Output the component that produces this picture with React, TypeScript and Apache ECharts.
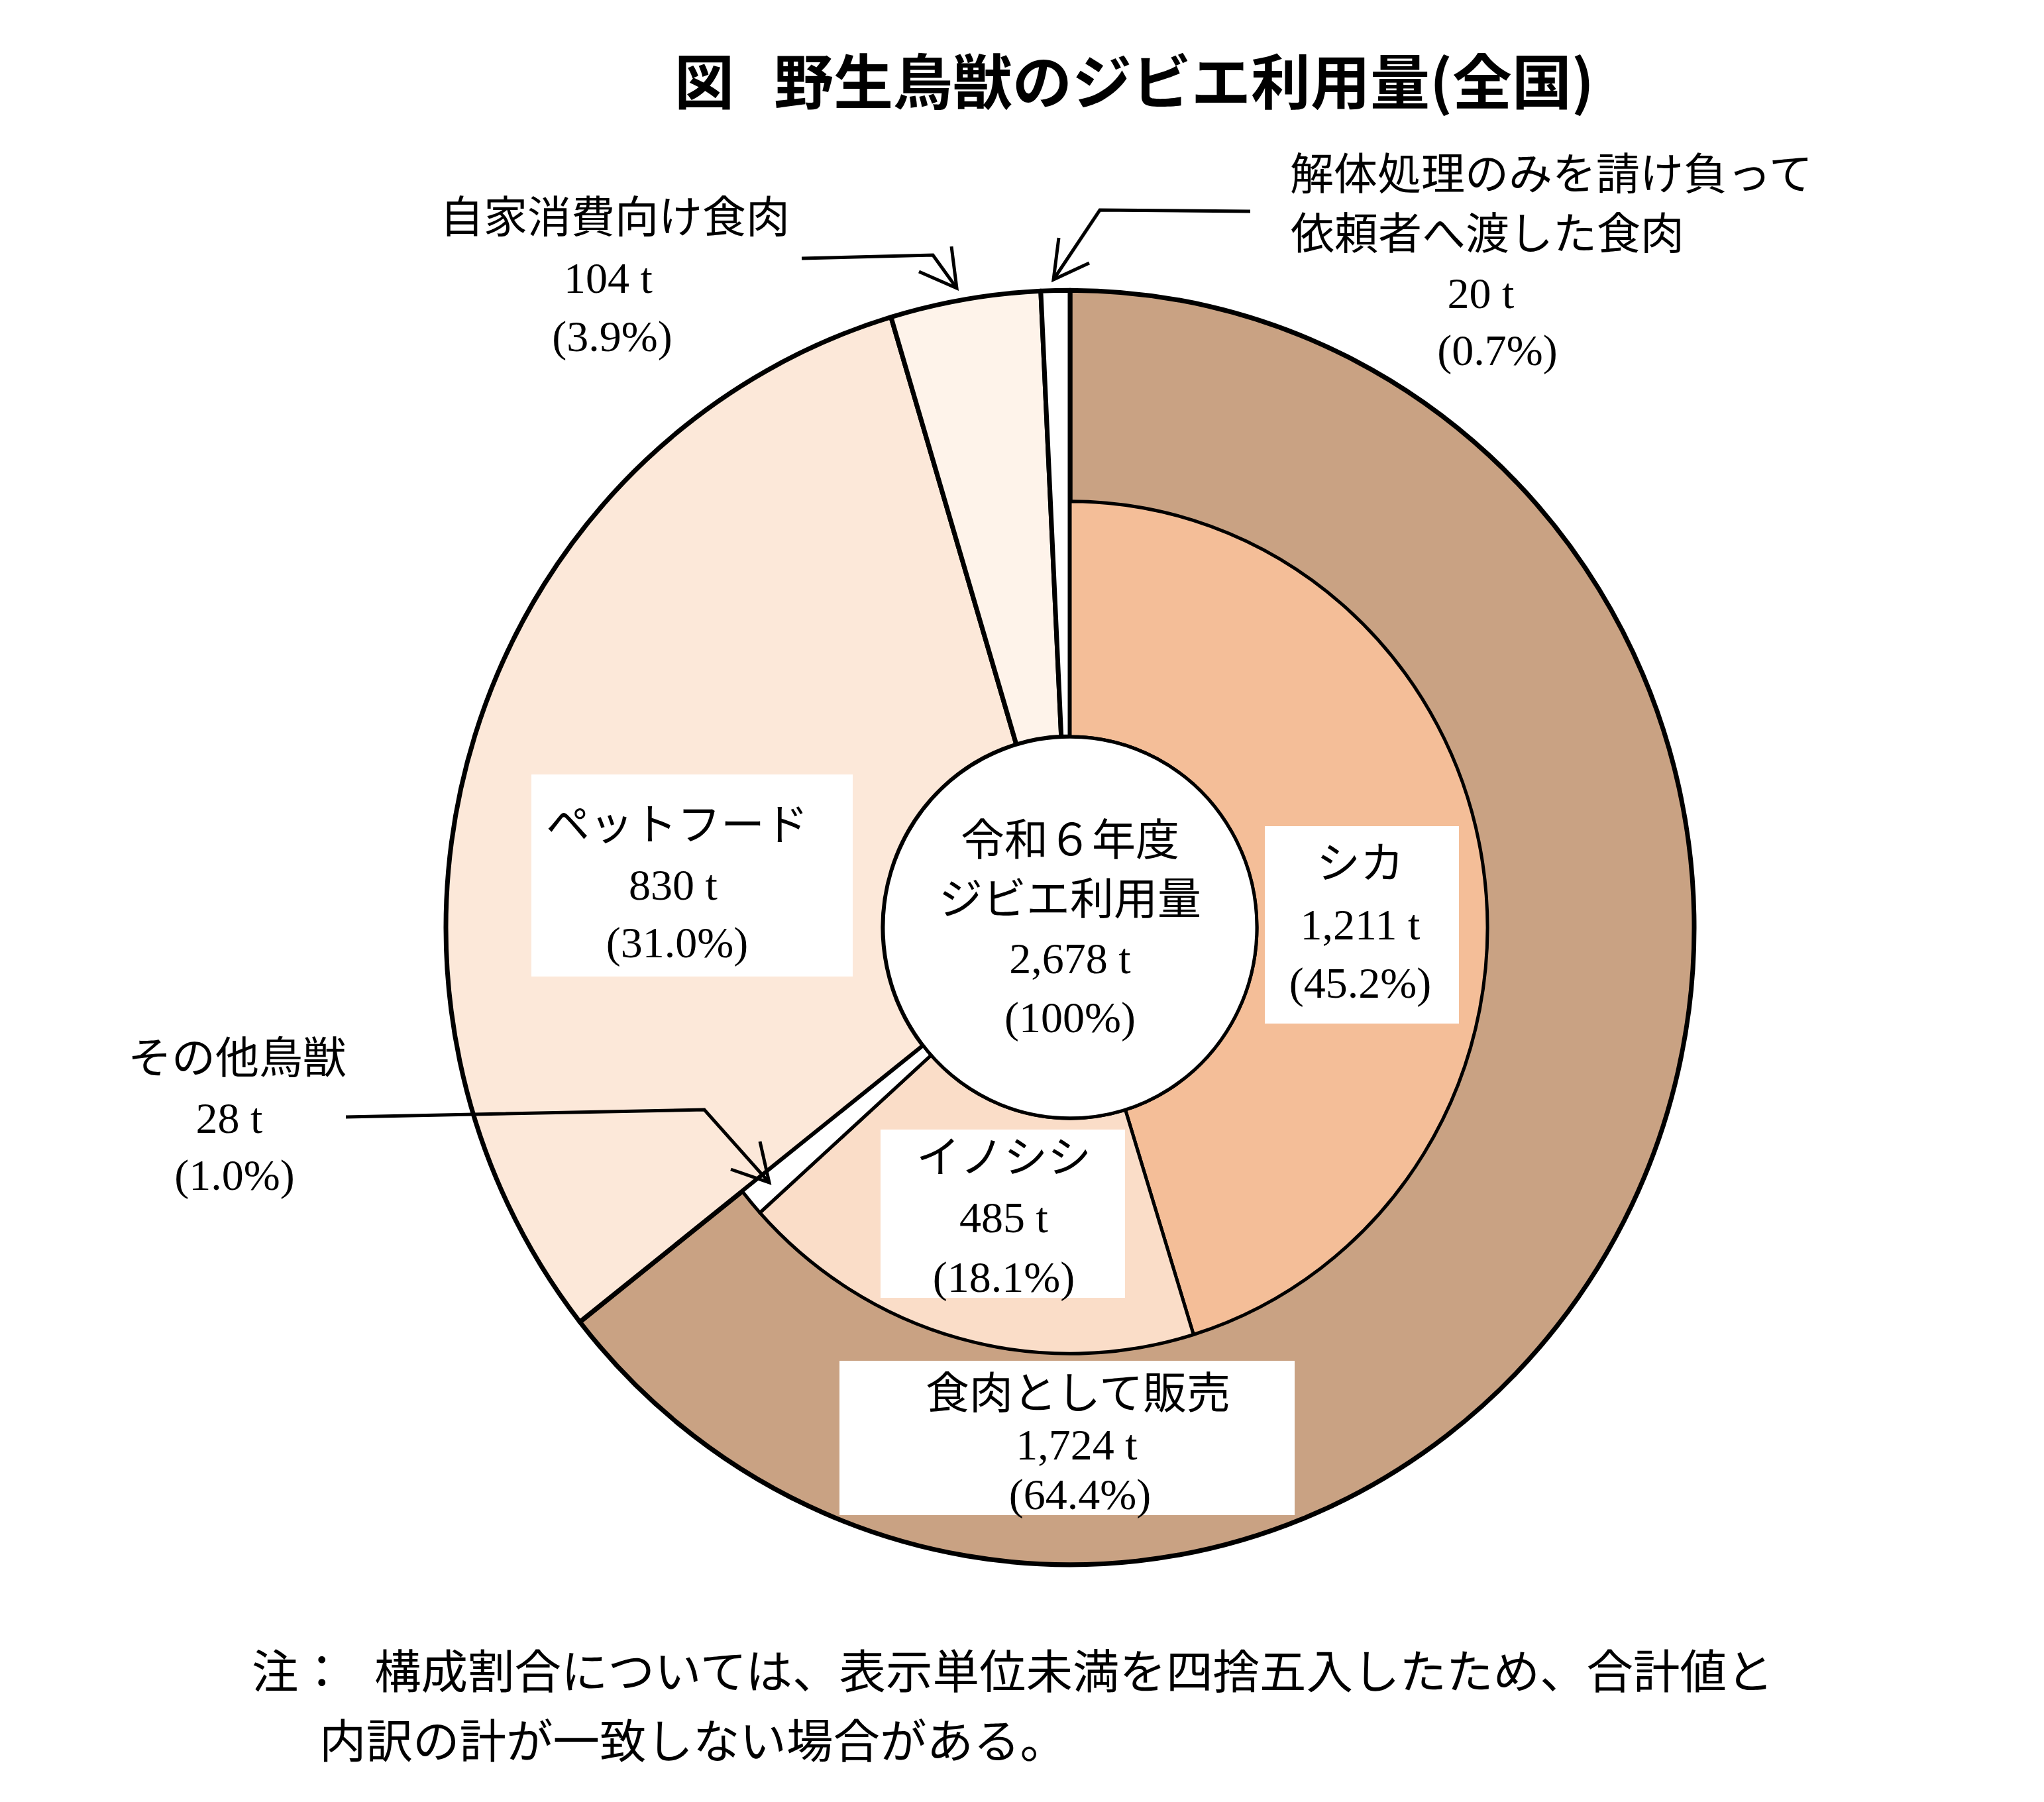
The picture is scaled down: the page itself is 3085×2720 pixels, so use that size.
import React, { useEffect, useRef } from 'react';
import * as echarts from 'echarts';

// ---- data ----
const titleMark = '図';
const titleText = '野生鳥獣のジビエ利用量(全国)';
const centerLines = ['令和６年度', 'ジビエ利用量'];
const totalValue = 2678;
const totalPct = '100';
const outerNames = ['食肉として販売', 'ペットフード', '自家消費向け食肉', '解体処理のみを請け負って\n依頼者へ渡した食肉'];
const outerValues = [1724, 830, 104, 20];
const outerPcts = ['64.4', '31.0', '3.9', '0.7'];
const innerNames = ['シカ', 'イノシシ', 'その他鳥獣'];
const innerValues = [1211, 485, 28];
const innerPcts = ['45.2', '18.1', '1.0'];
const noteHead = '注：';
const noteLines = ['構成割合については、表示単位未満を四捨五入したため、合計値と', '内訳の計が一致しない場合がある。'];

// ---- style ----
const outerColors = ['#C9A283', '#FCE8D9', '#FEF3EA', '#FFFFFF'];
const innerColors = ['#F4BE98', '#FADDC8', '#FFFFFF'];
const CX = 1615, CY = 1400, R_OUT = 942, R_MID = 630, R_HOLE = 282;
const SCALE_Y = 1.021; // the original doughnut is slightly taller than wide
const LABEL_FONT = '66px "Liberation Serif", "Noto Sans CJK JP", serif';
const NOTE_FONT = '70.5px "Noto Sans CJK JP", sans-serif';
const TITLE_FONT = 'bold 90px "Noto Sans CJK JP", sans-serif';

const fmt = (v: number) => v.toLocaleString('en-US');
const valText = (v: number) => `${fmt(v)} t`;
const pctText = (p: string) => `(${p}%)`;

function txt(text: string, x: number, y: number, align = 'center', font = LABEL_FONT) {
  return {
    type: 'text',
    z: 100,
    silent: true,
    style: { text, x, y, font, textAlign: align, textVerticalAlign: 'middle', fill: '#000' },
  };
}
function rect(x1: number, y1: number, x2: number, y2: number) {
  return { type: 'rect', z: 99, silent: true, shape: { x: x1, y: y1, width: x2 - x1, height: y2 - y1 }, style: { fill: '#fff' } };
}
function pl(points: number[][], w = 5) {
  return { type: 'polyline', z: 101, silent: true, shape: { points }, style: { stroke: '#000', lineWidth: w, fill: null, lineJoin: 'miter' } };
}

export default function App() {
  const pieRef = useRef<HTMLDivElement>(null);
  const textRef = useRef<HTMLDivElement>(null);
  useEffect(() => {
    if (!pieRef.current || !textRef.current) return;
    const pieChart = echarts.init(pieRef.current, null, { renderer: 'svg' });
    const textChart = echarts.init(textRef.current, null, { renderer: 'svg' });
    const innerSum = innerValues.reduce((a, b) => a + b, 0);
    const outerSum = outerValues.reduce((a, b) => a + b, 0);
    const filler = outerSum - innerSum;
    const [n0, n1, n2, n3] = outerNames;
    const n3lines = n3.split('\n');

    const common = {
      center: [CX, CY],
      startAngle: 90,
      clockwise: true,
      silent: true,
      label: { show: false },
      labelLine: { show: false },
      emphasis: { disabled: true },
    };

    pieChart.setOption({
      animation: false,
      backgroundColor: '#fff',
      series: [
        {
          type: 'pie',
          ...common,
          radius: [R_HOLE, R_OUT],
          itemStyle: { borderColor: '#000', borderWidth: 7 },
          data: outerValues.map((v, i) => ({ value: v, name: outerNames[i], itemStyle: { color: outerColors[i] } })),
        },
        {
          type: 'pie',
          ...common,
          radius: [R_HOLE, R_MID],
          itemStyle: { borderColor: '#000', borderWidth: 5 },
          data: [
            ...innerValues.map((v, i) => ({ value: v, name: innerNames[i], itemStyle: { color: innerColors[i] } })),
            { value: filler, name: '', itemStyle: { color: 'rgba(0,0,0,0)', borderWidth: 0 } },
          ],
        },
        {
          type: 'pie',
          ...common,
          radius: [0, R_HOLE],
          itemStyle: { color: '#fff', borderColor: '#000', borderWidth: 5 },
          data: [{ value: totalValue, name: '合計' }],
        },
      ],
    });

    const graphic: any[] = [
      // title
      txt(titleMark, 1018, 118, 'left', TITLE_FONT),
      txt(titleText, 1168, 118, 'left', TITLE_FONT),
      // center
      txt(centerLines[0], 1615, 1268),
      txt(centerLines[1], 1615, 1357),
      txt(valText(totalValue), 1615, 1446),
      txt(pctText(totalPct), 1615, 1535),
      // 食肉として販売
      rect(1267, 2054, 1954, 2287),
      txt(n0, 1627, 2103),
      txt(valText(outerValues[0]), 1625, 2180),
      txt(pctText(outerPcts[0]), 1630, 2255),
      // ペットフード
      rect(802, 1169, 1287, 1474),
      txt(n1, 1022, 1245),
      txt(valText(outerValues[1]), 1016, 1335),
      txt(pctText(outerPcts[1]), 1022, 1422),
      // 自家消費
      txt(n2, 928, 328),
      txt(valText(outerValues[2]), 918, 419),
      txt(pctText(outerPcts[2]), 924, 507),
      // 解体
      txt(n3lines[0], 1947, 263, 'left'),
      txt(n3lines[1], 1948, 353, 'left'),
      txt(valText(outerValues[3]), 2235, 442),
      txt(pctText(outerPcts[3]), 2260, 528),
      // シカ
      rect(1909, 1247, 2202, 1545),
      txt(innerNames[0], 2053, 1303),
      txt(valText(innerValues[0]), 2053, 1395),
      txt(pctText(innerPcts[0]), 2053, 1483),
      // イノシシ
      rect(1329, 1705, 1698, 1959),
      txt(innerNames[1], 1515, 1747),
      txt(valText(innerValues[1]), 1515, 1837),
      txt(pctText(innerPcts[1]), 1515, 1927),
      // その他
      txt(innerNames[2], 358, 1597),
      txt(valText(innerValues[2]), 346, 1687),
      txt(pctText(innerPcts[2]), 354, 1773),
      // arrows
      pl([[1210, 390], [1408, 385], [1444, 435]]),
      pl([[1387, 410], [1444, 435], [1436, 372]]),
      pl([[1887, 319], [1660, 317], [1590, 422]]),
      pl([[1644, 397], [1590, 422], [1598, 359]]),
      pl([[522, 1686], [1063, 1675], [1161, 1785]]),
      pl([[1103, 1765], [1161, 1785], [1147, 1723]]),
      // note
      txt(noteHead, 380, 2518, 'left', NOTE_FONT),
      txt(noteLines[0], 565, 2518, 'left', NOTE_FONT),
      txt(noteLines[1], 482, 2623, 'left', NOTE_FONT),
    ];

    textChart.setOption({ animation: false, graphic });

    return () => {
      pieChart.dispose();
      textChart.dispose();
    };
  }, []);
  const box: React.CSSProperties = { position: 'absolute', left: 0, top: 0, width: '3085px', height: '2720px' };
  return (
    <div>
      <div
        ref={pieRef}
        style={{ ...box, transform: `scaleY(${SCALE_Y})`, transformOrigin: `${CX}px ${CY}px` }}
      />
      <div ref={textRef} style={{ ...box, pointerEvents: 'none' }} />
    </div>
  );
}
